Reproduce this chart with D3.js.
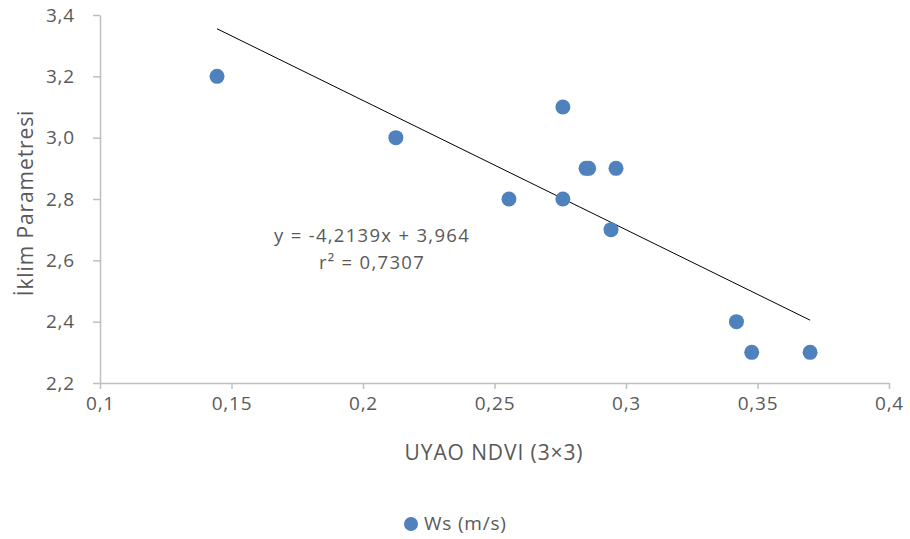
<!DOCTYPE html>
<html>
<head>
<meta charset="utf-8">
<script src="https://cdn.jsdelivr.net/npm/d3@7"></script>
<style>
  body { margin: 0; background: #fff; }
  svg text { font-family: "Open Sans", Lato, sans-serif; fill: #595959; }
</style>
</head>
<body>
<svg id="chart" width="910" height="539"></svg>
<script>
// data
const ndvi = [0.1445, 0.2125, 0.2555, 0.276, 0.276, 0.2848, 0.2858, 0.2962, 0.2943, 0.342, 0.3478, 0.370];
const ws   = [3.2,    3.0,    2.8,    3.1,   2.8,   2.9,    2.9,    2.9,    2.7,    2.4,   2.3,    2.3];
const xTicks = [0.1, 0.15, 0.2, 0.25, 0.3, 0.35, 0.4];
const yTicks = [2.2, 2.4, 2.6, 2.8, 3.0, 3.2, 3.4];
const slope = -4.2139, intercept = 3.964;
const eqText = ['y = -4,2139x + 3,964', 'r² = 0,7307'];

const svg = d3.select('#chart');
const grey = '#bfbfbf';

// scales
const x = d3.scaleLinear().domain([0.1, 0.4]).range([100, 889]);
const y = d3.scaleLinear().domain([2.2, 3.4]).range([383, 15]);

const comma = (d, dec) => d.toFixed(dec).replace('.', ',');

// x axis
const xAxis = svg.append('g')
    .attr('transform', 'translate(0,383)')
    .call(d3.axisBottom(x).tickValues(xTicks).tickSize(6).tickSizeOuter(0)
        .tickFormat(d => comma(d, Math.round(d * 100) % 10 === 0 ? 1 : 2)));
xAxis.select('.domain').attr('stroke', grey).attr('stroke-width', 1.5);
xAxis.selectAll('.tick line').attr('stroke', grey).attr('stroke-width', 1.5);
xAxis.selectAll('.tick text').attr('font-size', 19).attr('letter-spacing', 0.8)
    .attr('y', 14).attr('dy', '0.71em').attr('fill', '#595959');

// y axis
const yAxis = svg.append('g')
    .attr('transform', 'translate(100,0)')
    .call(d3.axisLeft(y).tickValues(yTicks).tickSize(7).tickSizeOuter(0)
        .tickFormat(d => comma(d, 1)));
yAxis.select('.domain').attr('stroke', grey).attr('stroke-width', 1.5);
yAxis.selectAll('.tick line').attr('stroke', grey).attr('stroke-width', 1.5);
yAxis.selectAll('.tick text').attr('font-size', 19).attr('letter-spacing', 0.8)
    .attr('x', -25).attr('fill', '#595959');

// axis titles
svg.append('text')
    .attr('x', 494).attr('y', 460)
    .attr('text-anchor', 'middle').attr('font-size', 21).attr('letter-spacing', 0.9)
    .text('UYAO NDVI (3×3)');

svg.append('text')
    .attr('transform', 'translate(33,203) rotate(-90)')
    .attr('text-anchor', 'middle').attr('font-size', 21).attr('letter-spacing', 0.9)
    .text('İklim Parametresi');

// trend line
const xMin = d3.min(ndvi), xMax = d3.max(ndvi);
svg.append('line')
    .attr('x1', x(xMin)).attr('y1', y(slope * xMin + intercept))
    .attr('x2', x(xMax)).attr('y2', y(slope * xMax + intercept))
    .attr('stroke', '#000').attr('stroke-width', 1);

// points
svg.selectAll('circle.pt')
    .data(ndvi.map((d, i) => ({ x: d, y: ws[i] })))
    .enter()
    .append('circle')
    .attr('class', 'pt')
    .attr('cx', d => x(d.x))
    .attr('cy', d => y(d.y))
    .attr('r', 7.5)
    .attr('fill', '#4f81bd');

// equation
svg.selectAll('text.eq')
    .data(eqText)
    .enter()
    .append('text')
    .attr('class', 'eq')
    .attr('x', 372)
    .attr('y', (d, i) => 242 + i * 27)
    .attr('text-anchor', 'middle')
    .attr('font-size', 18.5).attr('letter-spacing', 1.3)
    .text(d => d);

// legend
svg.append('circle')
    .attr('cx', 411).attr('cy', 524).attr('r', 7)
    .attr('fill', '#4f81bd');
svg.append('text')
    .attr('x', 424).attr('y', 530)
    .attr('font-size', 19).attr('letter-spacing', 0.8)
    .text('Ws (m/s)');
</script>
</body>
</html>
